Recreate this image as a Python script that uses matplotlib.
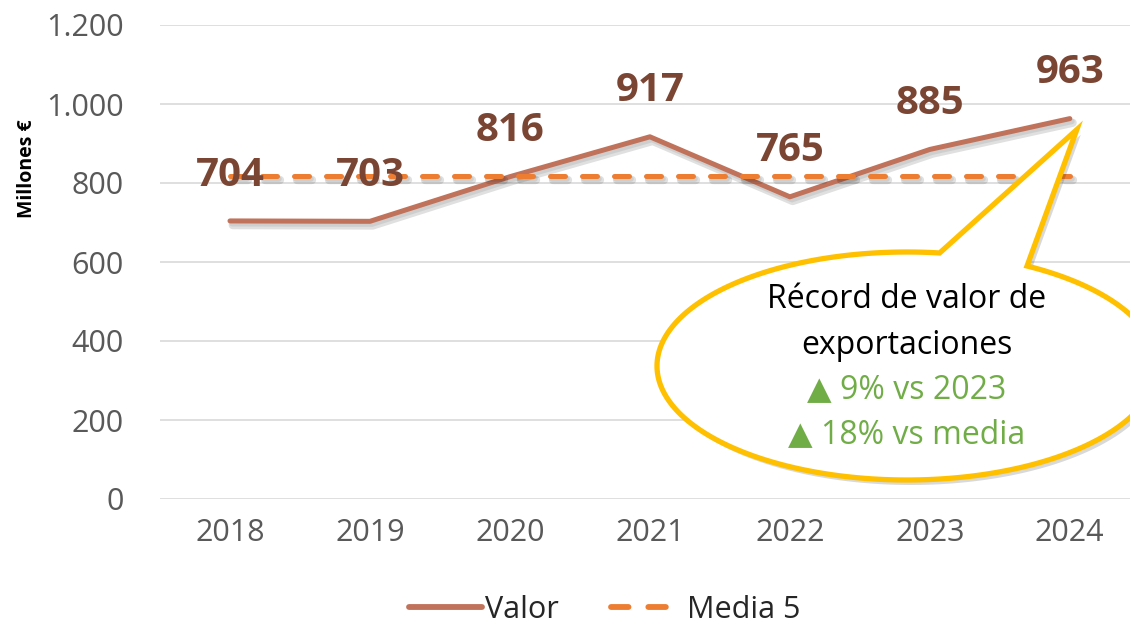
import numpy as np
import matplotlib
matplotlib.use("Agg")
import matplotlib.pyplot as plt
import matplotlib.patheffects as pe
from matplotlib.patches import Polygon

plt.rcParams['font.family'] = ['Open Sans', 'DejaVu Sans']

years = ['2018', '2019', '2020', '2021', '2022', '2023', '2024']
valor = [704, 703, 816, 917, 765, 885, 963]
media5 = [817, 817, 817, 817, 817, 817, 817]
yticks = [0, 200, 400, 600, 800, 1000, 1200]
ytick_labels = ['0', '200', '400', '600', '800', '1.000', '1.200']

c_valor = '#C0725A'
c_label = '#7B4533'
c_media = '#ED7D31'
c_grey = '#595959'

W, H = 1130, 625
fig = plt.figure(figsize=(W / 100, H / 100), dpi=100)
ax = fig.add_axes([160 / W, 126 / H, 970 / W, 474 / H])

x = np.arange(len(years))
shadow = [pe.SimpleLineShadow(offset=(2, -3), shadow_color='k', alpha=0.12, linewidth=6),
          pe.SimpleLineShadow(offset=(1.5, -2), shadow_color='k', alpha=0.08, linewidth=4),
          pe.Normal()]
l1, = ax.plot(x, valor, color=c_valor, lw=3.6, solid_capstyle='round', label='Valor',
              path_effects=shadow, zorder=3)
l2, = ax.plot(x, media5, color=c_media, lw=3.6, dashes=(3, 3.4), dash_capstyle='round',
              label='Media 5', path_effects=shadow, zorder=3)

for xi, v in zip(x, valor):
    ax.annotate(str(v), (xi, v), xytext=(0, 33), textcoords='offset points',
                ha='center', va='center', fontsize=29, fontweight='bold', color=c_label, zorder=5)

ax.set_xlim(-0.5, 6.43)
ax.set_ylim(0, 1200)
ax.set_yticks(yticks)
ax.set_yticklabels(ytick_labels)
ax.set_xticks(x)
ax.set_xticklabels(years)
ax.tick_params(axis='both', length=0, labelsize=22, labelcolor=c_grey)
ax.tick_params(axis='y', pad=26)
ax.tick_params(axis='x', pad=14)
ax.grid(axis='y', color='#D9D9D9', lw=1.2)
ax.set_axisbelow(True)
for s in ax.spines.values():
    s.set_visible(False)

fig.text(27 / W, 1 - 169 / H, 'Millones €', rotation=90, ha='center', va='center',
         fontsize=14, fontweight='bold', color='black')

leg = fig.legend(loc='center', bbox_to_anchor=(0.535, 15 / H), ncol=2, frameon=False,
                 fontsize=22, handlelength=2.4, handletextpad=0.1, columnspacing=1.7,
                 labelcolor='#262626')
for h in leg.legend_handles:
    h.set_path_effects([])
    h.set_linewidth(4.2)

# callout bubble drawn in pixel coordinates on an overlay axes
ov = fig.add_axes([0, 0, 1, 1])
ov.set_xlim(0, W)
ov.set_ylim(H, 0)
ov.axis('off')

px, py = ax.transData.transform((6, valor[-1]))
tip = (px + 7, H - py + 11)
cx, cy, a, b = 907, 366, 250, 114
t = np.linspace(-1.07, -1.44 + 2 * np.pi, 300)
pts = np.column_stack([cx + a * np.cos(t), cy + b * np.sin(t)])
pts = np.vstack([pts, tip])
ov.add_patch(Polygon(pts + [4, 5], closed=True, fc='#000000', ec='none', alpha=0.15, zorder=1))
ov.add_patch(Polygon(pts, closed=True, fc='white', ec='#FFC000', lw=3.8, joinstyle='miter', zorder=2))

ov.text(cx, 300, 'Récord de valor de', ha='center', va='center', fontsize=23, color='black', zorder=3)
ov.text(cx, 345, 'exportaciones', ha='center', va='center', fontsize=23, color='black', zorder=3)
ov.text(cx, 390, '▲ 9% vs 2023', ha='center', va='center', fontsize=23, color='#70AD47', zorder=3)
ov.text(cx, 435, '▲ 18% vs media', ha='center', va='center', fontsize=23, color='#70AD47', zorder=3)

fig.savefig('out.png', dpi=100)
